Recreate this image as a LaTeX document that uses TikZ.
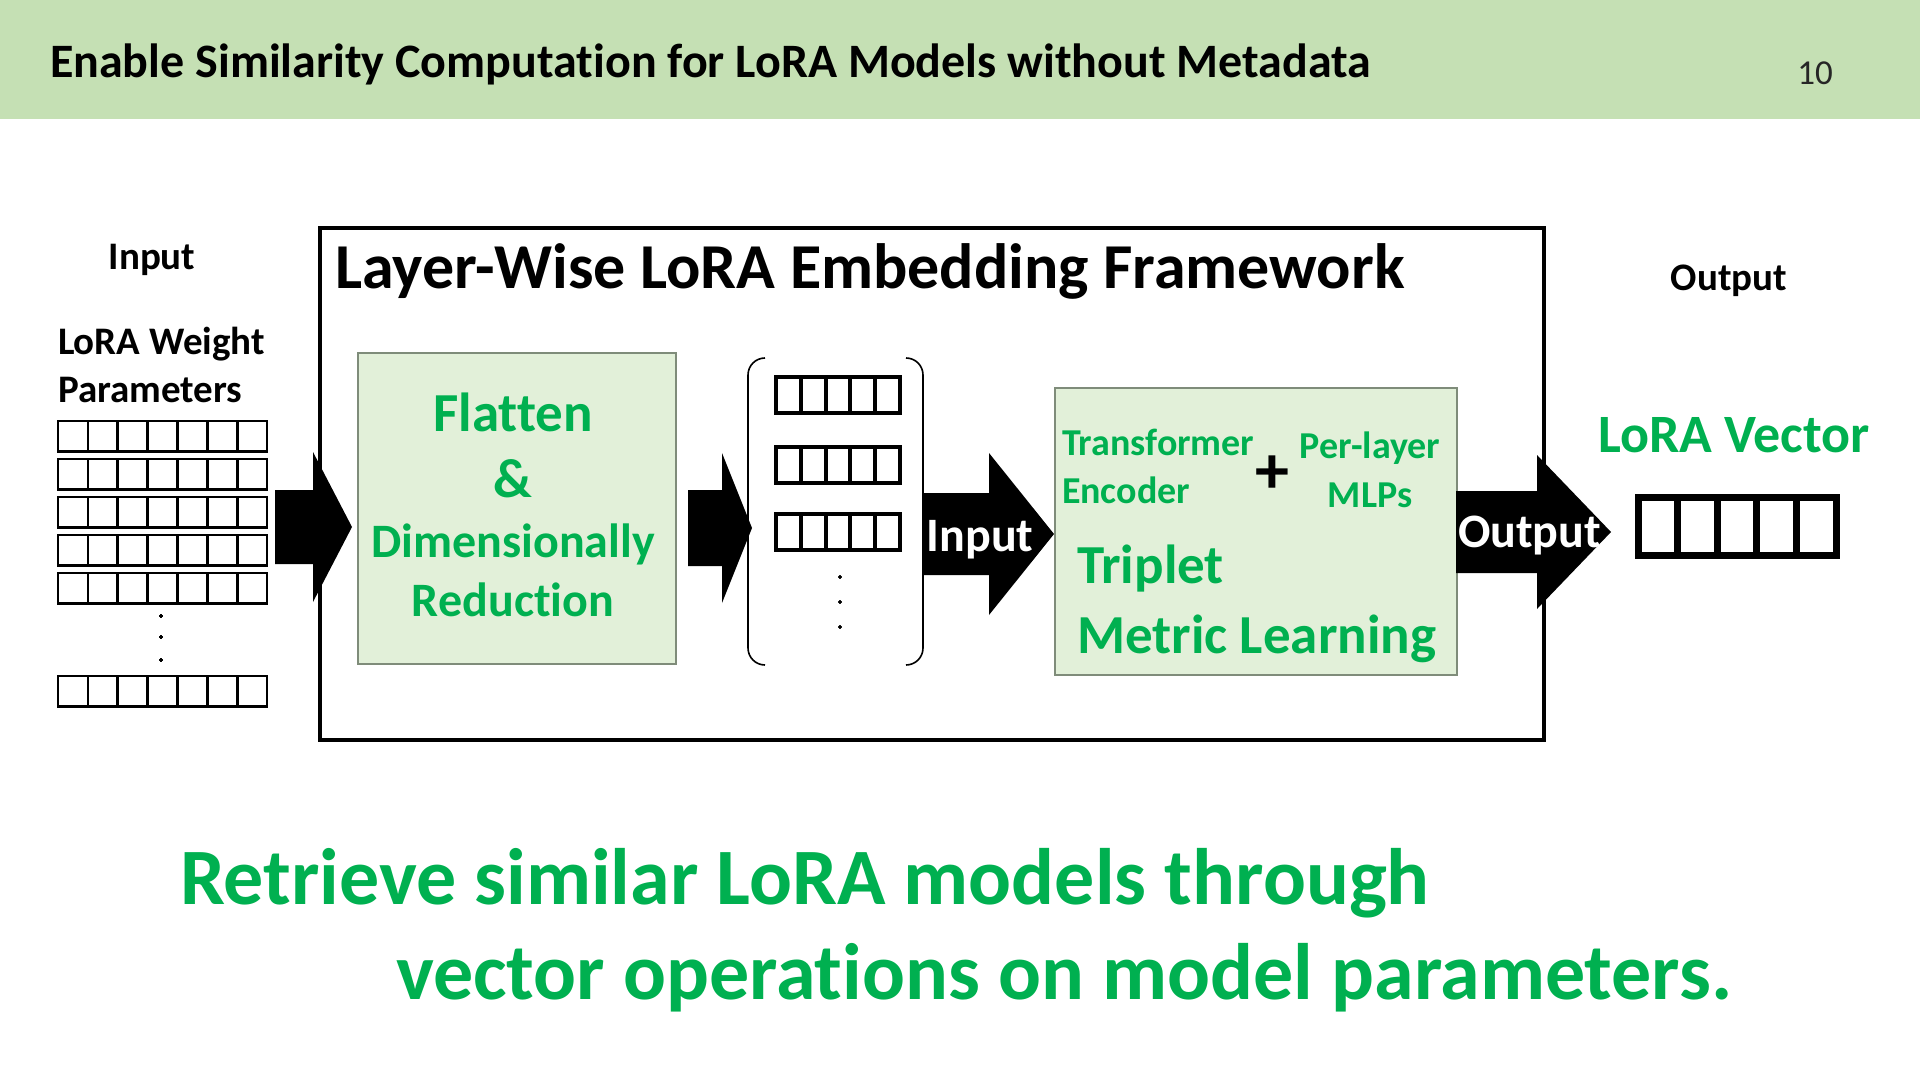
\documentclass[tikz,border=0pt]{standalone}
\usepackage{fontspec}
\setmainfont{Carlito}[Ligatures=CommonOff]
\usetikzlibrary{positioning}

\definecolor{hdrgreen}{HTML}{C5E0B4}
\definecolor{boxfill}{HTML}{E2F0D9}
\definecolor{boxline}{HTML}{7F8C7A}
\definecolor{lgreen}{HTML}{00B050}

% block arrow: start x, head base x, tip x, centre y, half shaft, half head
\newcommand{\fatarrow}[6]{%
  \fill ({#1},{#4-#5}) -- ({#2},{#4-#5}) -- ({#2},{#4-#6}) -- ({#3},{#4})
        -- ({#2},{#4+#6}) -- ({#2},{#4+#5}) -- ({#1},{#4+#5}) -- cycle;}

% row of cells: left x, top y, cells, cell width, height, line width
\newcommand{\cellrow}[6]{%
  \foreach \k in {1,...,#3}
    \draw[line width=#6] ({#1+(\k-1)*#4},{#2}) rectangle ++(#4,#5);}

\begin{document}
\begin{tikzpicture}
  [
   x=0.5pt, y=-0.5pt,
   every node/.style={inner sep=0pt,outer sep=0pt},
   lbl/.style={font=\fontsize{19.5}{23}\selectfont\bfseries},
   gsmall/.style={text=lgreen,font=\fontsize{19}{23}\selectfont\bfseries},
   gmid/.style={text=lgreen,font=\fontsize{24}{29}\selectfont\bfseries},
   gbig/.style={text=lgreen,font=\fontsize{27.5}{33}\selectfont\bfseries},
   gbox/.style={draw=boxline,fill=boxfill,line width=1pt,anchor=north west},
   fwbox/.style={draw,line width=1.9pt},
   brk/.style={draw,line width=0.8pt,rounded corners=8.5pt},
   arrowtxt/.style={text=white,font=\fontsize{24}{29}\selectfont\bfseries}
  ]
   \useasboundingbox (0,0) rectangle (1920,1080);

   % header
   \fill[hdrgreen] (0,0) rectangle (1920,119);
   \node[anchor=base west,font=\fontsize{24}{29}\selectfont\bfseries] (title) at (50,78)
        {Enable Similarity Computation for LoRA Models without Metadata};
   \node[anchor=base,font=\fontsize{17.5}{21}\selectfont,text=black!85] (pnum) at (1815,85) {10};

   % input side
   \node[lbl,anchor=base] (inlbl) at (152,270) {Input};
   \node[lbl,anchor=base west] (lw) at (58,355) {LoRA Weight};
   \node[lbl,below=23.5pt of lw.base west,anchor=base west] (par) {Parameters};
   \foreach \yy in {421,459,497,535,573,676}
     \cellrow{58}{\yy}{7}{29.86}{30.5}{1.35pt}
   \foreach \yy in {616,637,660}
     \fill (161,\yy) circle (0.9pt);

   % framework
   \fatarrow{275}{313}{352}{527}{37}{75}
   \draw[fwbox] (320,228) rectangle (1544,740);
   \node[anchor=base west,font=\fontsize{32}{38}\selectfont\bfseries] (fwtitle) at (335,289)
        {Layer-Wise LoRA Embedding Framework};

   \node[gbox,minimum width=159pt,minimum height=155.5pt] (flat) at (358,353) {};
   \node[gbig,anchor=base] (flt) at (513,431) {Flatten};
   \node[gbig,anchor=base] (amp) at (513,497) {\&};
   \node[gmid,anchor=base] (dim) at (513,557) {Dimensionally};
   \node[gmid,anchor=base] (red) at (513,616) {Reduction};

   \fatarrow{688}{722}{752}{528}{38}{75}

   % flattened vectors
   \draw[brk] (765,358) -- (748,358) -- (748,665) -- (765,665);
   \draw[brk] (906,358) -- (923,358) -- (923,665) -- (906,665);
   \foreach \yy in {377,447,514}
     \cellrow{776}{\yy}{5}{24.8}{36}{2pt}
   \foreach \yy in {577,602,627}
     \fill (840,\yy) circle (0.9pt);

   \fatarrow{923}{989}{1054}{534}{41}{81}
   \node[arrowtxt,anchor=base] (inarr) at (980,551) {Input};

   \node[gbox,minimum width=201pt,minimum height=143.5pt] (trip) at (1055,388) {};
   \node[gsmall,anchor=base west] (tfm) at (1062,455) {Transformer};
   \node[gsmall,below=24pt of tfm.base west,anchor=base west] (enc) {Encoder};
   \node[font=\fontsize{34}{40}\selectfont\bfseries] (plus) at (1272,475) {+};
   \node[gsmall,anchor=base] (pl) at (1370,458) {Per-layer};
   \node[gsmall,below=24.5pt of pl.base,anchor=base] (mlp) {MLPs};
   \node[gbig,anchor=base west] (trp) at (1077,583) {Triplet};
   \node[gbig,below=35pt of trp.base west,anchor=base west] (mtl) {Metric Learning};

   \fatarrow{1456}{1537}{1611}{532}{41}{77}
   \node[arrowtxt,anchor=base west] (outarr) at (1458,547) {Output};

   % output side
   \node[lbl,anchor=base] (outlbl) at (1729,291) {Output};
   \node[anchor=base west,text=lgreen,font=\fontsize{27}{33}\selectfont\bfseries] (vec) at (1598,452) {LoRA Vector};
   \cellrow{1638}{497}{5}{39.6}{58}{3.5pt}

   % bottom message
   \node[anchor=base west,text=lgreen,font=\fontsize{40}{48}\selectfont\bfseries] (msg1) at (180,904)
        {Retrieve similar LoRA models through};
   \node[anchor=base west,text=lgreen,font=\fontsize{40}{48}\selectfont\bfseries] (msg2) at (396,999)
        {vector operations on model parameters.};
\end{tikzpicture}
\end{document}
